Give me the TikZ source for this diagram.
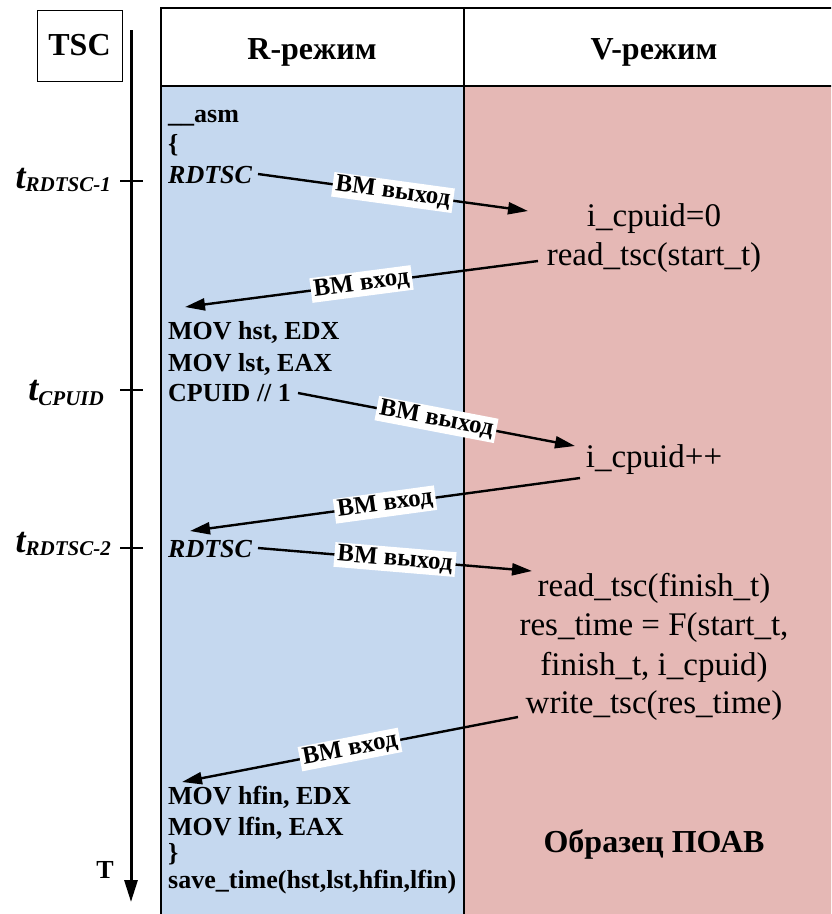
\documentclass[tikz,border=0pt]{standalone}
\usepackage{fontspec}
\setmainfont{Liberation Serif}
\usetikzlibrary{arrows.meta}
\definecolor{rfill}{HTML}{C5D8EF}
\definecolor{vfill}{HTML}{E5B8B5}
\begin{document}
\begin{tikzpicture}[x=1pt,y=-1pt,
  code/.style={anchor=base west, inner sep=0pt, font=\fontsize{26}{31}\selectfont\bfseries},
  vtext/.style={anchor=base, inner sep=0pt, font=\fontsize{33}{40}\selectfont},
  head/.style={anchor=base, inner sep=0pt, font=\fontsize{32}{38}\selectfont\bfseries},
  conn/.style={line width=2.4pt, -{Triangle[length=20pt,width=12pt]}},
  lab/.style={fill=white, sloped, inner xsep=3pt, inner ysep=2pt, font=\fontsize{25}{25}\selectfont\bfseries},
  tickmark/.style={line width=2.5pt},
  grid/.style={line width=2.6pt},
  tlabel/.style={anchor=base east, inner sep=0pt, font=\fontsize{36}{36}\selectfont\bfseries\itshape}]
\useasboundingbox (0,0) rectangle (831,914);
\clip (0,0) rectangle (831,914);

% table background
\fill[rfill] (161,86) rectangle (464,930);
\fill[vfill] (464,86) rectangle (860,930);
\draw[grid] (161,930) -- (161,8) -- (860,8);
\draw[grid] (161,86) -- (860,86);
\draw[grid] (464,8) -- (464,930);

% column headers
\node[head] (hr) at (312,59) {R-режим};
\node[head] (hv) at (654,59) {V-режим};

% time axis
\node[draw, line width=1pt, minimum width=85pt, minimum height=71pt, inner sep=0pt,
      font=\fontsize{32}{32}\selectfont\bfseries] (tsc) at (79.5,45.5) {TSC};
\coordinate (axtop) at (131,30);
\coordinate (axbot) at (131,902);
\draw[line width=3pt, -{Triangle[length=22pt,width=13pt]}] (axtop) -- (axbot);
\node[anchor=base, inner sep=0pt, font=\fontsize{26}{26}\selectfont\bfseries] (tT) at (105,878) {T};

\draw[tickmark] (120,181) -- (143,181);
\draw[tickmark] (120,390) -- (143,390);
\draw[tickmark] (120,548) -- (143,548);
\node[tlabel] (t1) at (111,188) {t\raisebox{-3pt}{\fontsize{21}{21}\selectfont RDTSC-1}};
\node[tlabel] (t2) at (104,400) {t\raisebox{-5pt}{\fontsize{21}{21}\selectfont CPUID}};
\node[tlabel] (t3) at (111,552) {t\raisebox{-3pt}{\fontsize{21}{21}\selectfont RDTSC-2}};

% R-mode code
\node[code] (asm) at (168,122) {\_\_asm};
\node[code] (ob)  at (168,152) {\{};
\node[code, font=\fontsize{26}{31}\selectfont\bfseries\itshape] (rd1) at (168,183) {RDTSC};
\node[code] (m1)  at (168,339) {MOV hst, EDX};
\node[code] (m2)  at (168,371) {MOV lst, EAX};
\node[code] (cp)  at (168,401) {CPUID // 1};
\node[code, font=\fontsize{26}{31}\selectfont\bfseries\itshape] (rd2) at (168,557) {RDTSC};
\node[code] (m3)  at (168,804) {MOV hfin, EDX};
\node[code] (m4)  at (168,835) {MOV lfin, EAX};
\node[code] (cb)  at (168,861) {\}};
\node[code] (sv)  at (168,888) {save\_time(hst,lst,hfin,lfin)};

% V-mode code
\node[vtext] (ic0)  at (654,226) {i\_cpuid=0};
\node[vtext] (rs)   at (654,265) {read\_tsc(start\_t)};
\node[vtext] (icpp) at (654,467) {i\_cpuid++};
\node[vtext] (rf)   at (654,596) {read\_tsc(finish\_t)};
\node[vtext] (rt)   at (654,635) {res\_time = F(start\_t,};
\node[vtext] (ft)   at (654,675) {finish\_t, i\_cpuid)};
\node[vtext] (wt)   at (654,713) {write\_tsc(res\_time)};
\node[head]  (obr)  at (654,852) {Образец ПОАВ};

% transitions between modes
\coordinate (s1) at (258,174);  \coordinate (e1) at (528,211);
\coordinate (s2) at (538,261);  \coordinate (e2) at (185,307);
\coordinate (s3) at (298,393);  \coordinate (e3) at (575,446);
\coordinate (s4) at (580,478);  \coordinate (e4) at (190,531);
\coordinate (s5) at (258,548);  \coordinate (e5) at (532,571);
\coordinate (s6) at (518,717);  \coordinate (e6) at (182,782);

\draw[conn] (s1) -- node[lab] (l1) {ВМ выход} (e1);
\draw[conn] (s2) -- node[lab] (l2) {ВМ вход} (e2);
\draw[conn] (s3) -- node[lab] (l3) {ВМ выход} (e3);
\draw[conn] (s4) -- node[lab] (l4) {ВМ вход} (e4);
\draw[conn] (s5) -- node[lab] (l5) {ВМ выход} (e5);
\draw[conn] (s6) -- node[lab] (l6) {ВМ вход} (e6);
\end{tikzpicture}
\end{document}
